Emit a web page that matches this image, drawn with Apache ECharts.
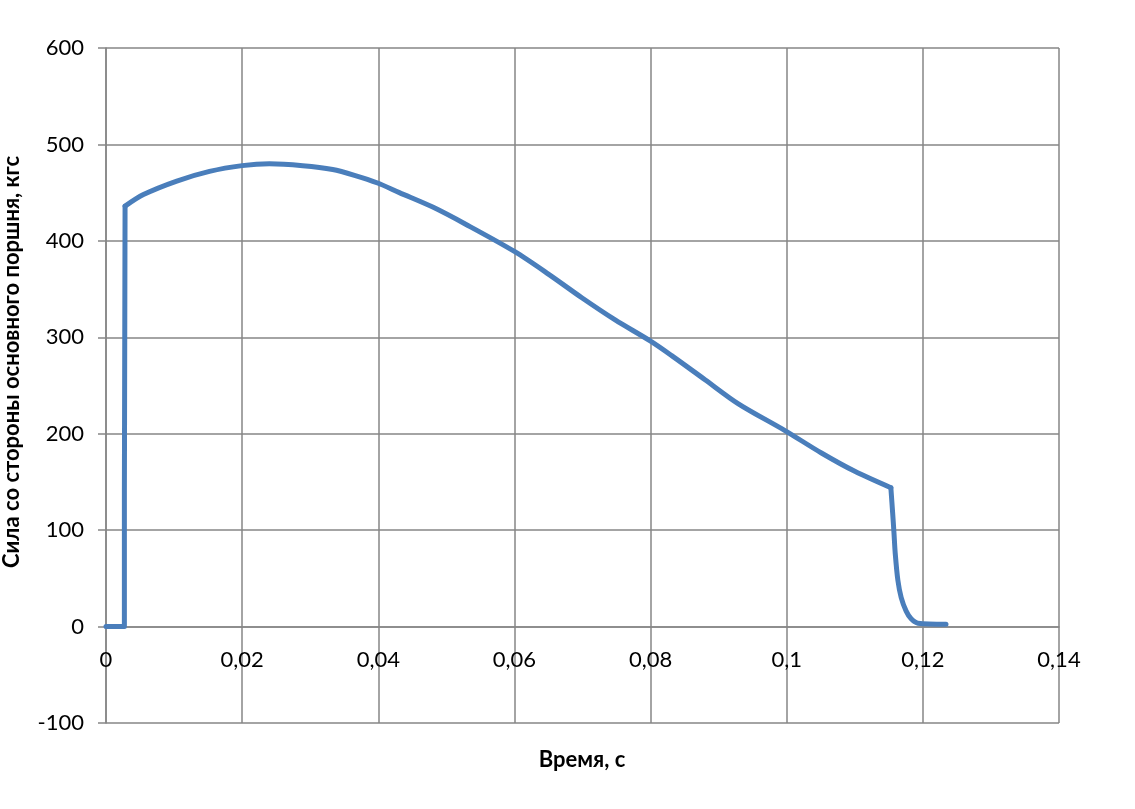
<!DOCTYPE html>
<html>
<head>
<meta charset="utf-8">
<script src="https://cdn.jsdelivr.net/npm/echarts@6/dist/echarts.min.js"></script>
<style>
html,body{margin:0;padding:0;background:#fff;}
#chart{width:1135px;height:809px;}
</style>
</head>
<body>
<div id="chart"></div>
<script>
// Time, s
var timeValues = [0, 0.0027, 0.0027, 0.0028, 0.0055, 0.0104, 0.0152, 0.02, 0.024, 0.0289, 0.0333, 0.0365, 0.0399, 0.0431, 0.048, 0.0529, 0.06, 0.0651, 0.0699, 0.0748, 0.08, 0.0831, 0.088, 0.0929, 0.0998, 0.1051, 0.11, 0.1153, 0.11556, 0.11575, 0.11594, 0.11633, 0.11682, 0.11755, 0.11828, 0.11927, 0.1234];
// Force, kgf
var forceValues = [0, 0, 140, 436, 448, 462, 472, 478, 480, 478, 474, 468, 460, 450, 435, 417, 389, 365, 341, 318, 296, 281, 256, 231, 203, 180, 161, 144, 118, 98, 76, 48, 30, 16, 8, 3.5, 2.5];
// indices of the sharp corners in the curve (start of the smooth arc, start of the fall)
var cornerIndices = [3, 27];
// Axis ranges and tick steps
var xMin = 0, xMax = 0.14, xStep = 0.02;
var yMin = -100, yMax = 600, yStep = 100;
var xTitle = 'Время, с';
var yTitle = 'Сила со стороны основного поршня, кгс';

var data = timeValues.map(function (t, i) { return [t, forceValues[i]]; });
var gridColor = '#868686';
var lineColor = '#4a7ebb';
var font = 'Lato, "Open Sans", sans-serif';
var W = 1135, H = 809;
var gridTop = 48, gridBottom = 86;
var plotH = H - gridTop - gridBottom;
// shift the x axis from the bottom edge up to the y = 0 line
var zeroOffset = -plotH * (0 - yMin) / (yMax - yMin);

// split the data at the corners so each piece can be smoothed on its own
var bounds = [0].concat(cornerIndices, [data.length - 1]);
var series = [];
for (var k = 0; k < bounds.length - 1; k++) {
  series.push({
    type: 'line', data: data.slice(bounds[k], bounds[k + 1] + 1),
    showSymbol: false, symbol: 'none',
    smooth: k === 0 ? false : 0.3,
    lineStyle: { color: lineColor, width: 5, join: 'round', cap: 'round' },
    itemStyle: { color: lineColor }
  });
}

var chart = echarts.init(document.getElementById('chart'));
chart.setOption({
  animation: false,
  backgroundColor: '#fff',
  grid: { left: 106, right: 76, top: gridTop, bottom: gridBottom, containLabel: false, outerBoundsMode: 'none' },
  xAxis: {
    type: 'value', min: xMin, max: xMax, interval: xStep,
    position: 'bottom', offset: zeroOffset,
    axisLine: { show: true, onZero: false, lineStyle: { color: gridColor, width: 1.5 } },
    axisTick: { show: false },
    axisLabel: {
      margin: 22, fontFamily: font, fontSize: 22, color: '#000',
      formatter: function (v) { return String(+v.toFixed(2)).replace('.', ','); }
    },
    splitLine: { show: true, lineStyle: { color: gridColor, width: 1.5 } }
  },
  yAxis: {
    type: 'value', min: yMin, max: yMax, interval: yStep,
    axisLine: { show: true, lineStyle: { color: gridColor, width: 1.5 } },
    axisTick: { show: true, length: 8, lineStyle: { color: gridColor, width: 1.5 } },
    axisLabel: { margin: 22, fontFamily: font, fontSize: 22, color: '#000' },
    splitLine: { show: true, lineStyle: { color: gridColor, width: 1.5 } }
  },
  graphic: [{
    type: 'text', x: 12, y: 362, rotation: Math.PI / 2,
    style: {
      text: yTitle, font: 'bold 22px ' + font, fill: '#000',
      textAlign: 'center', textVerticalAlign: 'middle'
    }
  }, {
    type: 'text', x: 582, y: 760,
    style: {
      text: xTitle, font: 'bold 22px ' + font, fill: '#000',
      textAlign: 'center', textVerticalAlign: 'middle'
    }
  }],
  series: series
});
</script>
</body>
</html>
